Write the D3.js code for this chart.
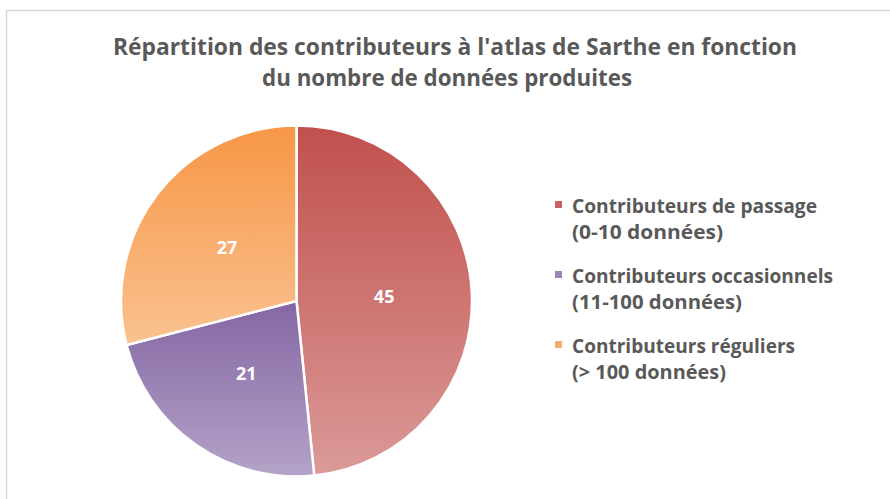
<!DOCTYPE html>
<html>
<head>
<meta charset="utf-8">
<script src="https://cdn.jsdelivr.net/npm/d3@7"></script>
<style>
  html, body { margin: 0; padding: 0; background: #fff; }
  svg { display: block; }
</style>
</head>
<body>
<svg id="chart" width="890" height="499"></svg>
<script>
// Contributor groups and their counts
const categories = [
  "Contributeurs de passage",
  "Contributeurs occasionnels",
  "Contributeurs réguliers"
];
const ranges = ["(0-10 données)", "(11-100 données)", "(> 100 données)"];
const values = [45, 21, 27];
const titleLines = [
  "Répartition des contributeurs à l'atlas de Sarthe en fonction",
  "du nombre de données produites"
];

// Gradient stops per slice: [top, bottom]
const gradients = [
  ["#c0504d", "#db9a98"],
  ["#8466a3", "#b4a3c8"],
  ["#f79646", "#fac290"]
];
const legendColors = ["#c9615e", "#9a84b8", "#f8aa6a"];

const svg = d3.select("#chart");
const font = "'Open Sans', 'Noto Sans', sans-serif";

// Chart frame
svg.append("path")
  .attr("d", "M6.5,499 V10.5 H890")
  .attr("fill", "none")
  .attr("stroke", "#d9d9d9")
  .attr("stroke-width", 1.5);

// Title
const title = svg.append("text")
  .attr("font-family", font)
  .attr("font-weight", 700)
  .attr("font-size", 23)
  .attr("fill", "#595959")
  .attr("text-anchor", "middle");
const titleX = [455, 447];
const titleY = [55, 86];
const titleW = [684, 370];
titleLines.forEach((t, i) => {
  title.append("tspan")
    .attr("x", titleX[i]).attr("y", titleY[i])
    .attr("textLength", titleW[i])
    .attr("lengthAdjust", "spacingAndGlyphs")
    .text(t);
});

// Pie
const cx = 296.5, cy = 301, r = 175.5;
const pie = d3.pie().sort(null).value(d => d);
const arcs = pie(values);
const arc = d3.arc().innerRadius(0).outerRadius(r);
const labelArc = d3.arc().innerRadius(r * 0.5).outerRadius(r * 0.5);

// Vertical extent of a slice, relative to the pie centre
function verticalExtent(a) {
  const ys = [0];
  const steps = 90;
  for (let k = 0; k <= steps; k++) {
    const t = a.startAngle + (a.endAngle - a.startAngle) * k / steps;
    ys.push(-Math.cos(t) * r);
  }
  return d3.extent(ys);
}

const defs = svg.append("defs");
arcs.forEach((a, i) => {
  const [y0, y1] = verticalExtent(a);
  const gr = defs.append("linearGradient")
    .attr("id", "grad" + i)
    .attr("gradientUnits", "userSpaceOnUse")
    .attr("x1", 0).attr("x2", 0)
    .attr("y1", y0).attr("y2", y1);
  gr.append("stop").attr("offset", 0).attr("stop-color", gradients[i][0]);
  gr.append("stop").attr("offset", 1).attr("stop-color", gradients[i][1]);
});

const g = svg.append("g").attr("transform", `translate(${cx},${cy})`);
g.selectAll("path.slice")
  .data(arcs)
  .join("path")
  .attr("class", "slice")
  .attr("d", arc)
  .attr("fill", (d, i) => `url(#grad${i})`)
  .attr("stroke", "#fff")
  .attr("stroke-width", 2.5)
  .attr("stroke-linejoin", "round");

g.selectAll("text.val")
  .data(arcs)
  .join("text")
  .attr("class", "val")
  .attr("transform", d => `translate(${labelArc.centroid(d)})`)
  .attr("text-anchor", "middle")
  .attr("dy", "0.36em")
  .attr("font-family", font)
  .attr("font-weight", 700)
  .attr("font-size", 18)
  .attr("fill", "#fff")
  .text(d => d.data);

// Legend
const legendY = [213, 283, 353];
const nameW = [245, 261, 223];
const rangeW = [151, 170, 154];
const lg = svg.append("g");
categories.forEach((c, i) => {
  const y = legendY[i];
  lg.append("rect")
    .attr("x", 555).attr("y", y - 12)
    .attr("width", 7).attr("height", 7)
    .attr("fill", legendColors[i]);
  const t = lg.append("text")
    .attr("font-family", font)
    .attr("font-weight", 700)
    .attr("font-size", 19)
    .attr("fill", "#595959");
  t.append("tspan").attr("x", 572).attr("y", y)
    .attr("textLength", nameW[i]).attr("lengthAdjust", "spacingAndGlyphs")
    .text(c);
  t.append("tspan").attr("x", 572).attr("y", y + 26)
    .attr("textLength", rangeW[i]).attr("lengthAdjust", "spacingAndGlyphs")
    .text(ranges[i]);
});
</script>
</body>
</html>
